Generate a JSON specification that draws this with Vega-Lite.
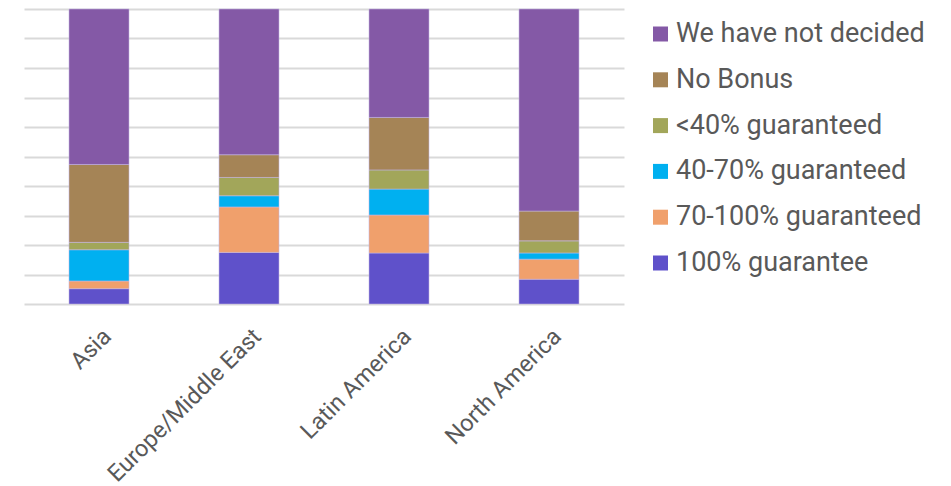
{
  "$schema": "https://vega.github.io/schema/vega-lite/v6.json",
  "width": 600,
  "height": 295,
  "autosize": "none",
  "padding": {"left": 24, "top": 9, "right": 327, "bottom": 182},
  "background": "white",
  "config": {
    "font": "Roboto",
    "view": {"stroke": null}
  },
  "data": {
    "values": [
      {"region": "Asia", "answer": "100% guarantee", "level": 1, "pct": 5.2},
      {"region": "Asia", "answer": "70-100% guaranteed", "level": 2, "pct": 2.6},
      {"region": "Asia", "answer": "40-70% guaranteed", "level": 3, "pct": 10.6},
      {"region": "Asia", "answer": "<40% guaranteed", "level": 4, "pct": 2.5},
      {"region": "Asia", "answer": "No Bonus", "level": 5, "pct": 26.4},
      {"region": "Asia", "answer": "We have not decided", "level": 6, "pct": 52.7},
      {"region": "Europe/Middle East", "answer": "100% guarantee", "level": 1, "pct": 17.5},
      {"region": "Europe/Middle East", "answer": "70-100% guaranteed", "level": 2, "pct": 15.4},
      {"region": "Europe/Middle East", "answer": "40-70% guaranteed", "level": 3, "pct": 3.8},
      {"region": "Europe/Middle East", "answer": "<40% guaranteed", "level": 4, "pct": 6.2},
      {"region": "Europe/Middle East", "answer": "No Bonus", "level": 5, "pct": 7.7},
      {"region": "Europe/Middle East", "answer": "We have not decided", "level": 6, "pct": 49.4},
      {"region": "Latin America", "answer": "100% guarantee", "level": 1, "pct": 17.3},
      {"region": "Latin America", "answer": "70-100% guaranteed", "level": 2, "pct": 12.9},
      {"region": "Latin America", "answer": "40-70% guaranteed", "level": 3, "pct": 8.8},
      {"region": "Latin America", "answer": "<40% guaranteed", "level": 4, "pct": 6.5},
      {"region": "Latin America", "answer": "No Bonus", "level": 5, "pct": 17.8},
      {"region": "Latin America", "answer": "We have not decided", "level": 6, "pct": 36.8},
      {"region": "North America", "answer": "100% guarantee", "level": 1, "pct": 8.4},
      {"region": "North America", "answer": "70-100% guaranteed", "level": 2, "pct": 6.8},
      {"region": "North America", "answer": "40-70% guaranteed", "level": 3, "pct": 2.1},
      {"region": "North America", "answer": "<40% guaranteed", "level": 4, "pct": 4.1},
      {"region": "North America", "answer": "No Bonus", "level": 5, "pct": 10.1},
      {"region": "North America", "answer": "We have not decided", "level": 6, "pct": 68.5}
    ]
  },
  "mark": {"type": "bar", "stroke": "#c4b6e4", "strokeOpacity": 0.7, "strokeWidth": 0.8},
  "encoding": {
    "x": {
      "field": "region",
      "type": "nominal",
      "scale": {"paddingInner": 0.6, "paddingOuter": 0.3},
      "axis": {
        "title": null,
        "labelAngle": -45,
        "labelFontSize": 23.5,
        "labelColor": "#595959",
        "domain": false,
        "ticks": false,
        "labelPadding": 20,
        "labelDx": -9,
        "labelLimit": 400
      }
    },
    "y": {
      "field": "pct",
      "type": "quantitative",
      "stack": "normalize",
      "scale": {"domain": [0, 1]},
      "axis": {
        "title": null,
        "labels": false,
        "ticks": false,
        "domain": false,
        "values": [0, 0.1, 0.2, 0.3, 0.4, 0.5, 0.6, 0.7, 0.8, 0.9, 1],
        "gridColor": "#d9d9d9",
        "gridWidth": 2
      }
    },
    "color": {
      "field": "answer",
      "type": "nominal",
      "scale": {
        "domain": ["We have not decided", "No Bonus", "<40% guaranteed", "40-70% guaranteed", "70-100% guaranteed", "100% guarantee"],
        "range": ["#8459A6", "#A58456", "#A2A65A", "#00B0F0", "#F0A06C", "#5F51CA"]
      },
      "legend": {
        "title": null,
        "orient": "none",
        "legendX": 623,
        "legendY": 11.5,
        "symbolType": "square",
        "symbolSize": 225,
        "symbolStrokeWidth": 0,
        "labelFontSize": 27,
        "labelColor": "#595959",
        "labelOffset": 2,
        "rowPadding": 17.8,
        "labelLimit": 400
      }
    },
    "order": {"field": "level", "type": "quantitative", "sort": "ascending"}
  }
}
